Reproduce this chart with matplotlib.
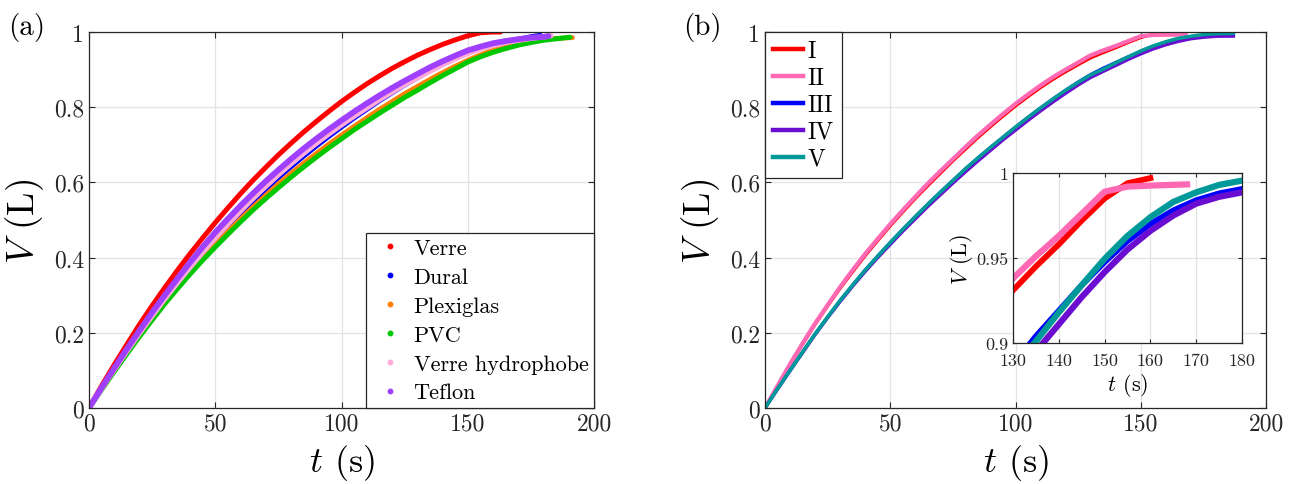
import matplotlib
matplotlib.use("Agg")
import matplotlib.pyplot as plt
from matplotlib.lines import Line2D
from matplotlib.ticker import FormatStrFormatter

plt.rcParams['font.family'] = ['cmr10', 'DejaVu Serif']
plt.rcParams['mathtext.fontset'] = 'cm'
plt.rcParams['axes.formatter.use_mathtext'] = True
plt.rcParams['axes.unicode_minus'] = False

# ---------------- Panel (a) data ----------------
mat_names = ["Verre", "Dural", "Plexiglas", "PVC", "Verre hydrophobe", "Teflon"]
mat_colors = ["#FF0000", "#0000FF", "#FF8000", "#00C800", "#FFAAD8", "#A040FF"]

t_verre = [0, 5, 10, 15, 20, 25, 30, 35, 40, 45, 50, 55, 60, 65, 70, 75, 80, 85, 90, 95, 100,
           105, 110, 115, 120, 125, 130, 135, 140, 145, 150, 155, 160, 163]
v_verre = [0, 0.059, 0.115, 0.169, 0.222, 0.272, 0.320, 0.366, 0.410, 0.452, 0.493, 0.532, 0.570,
           0.606, 0.640, 0.673, 0.704, 0.734, 0.762, 0.789, 0.815, 0.839, 0.862, 0.883, 0.903,
           0.921, 0.938, 0.953, 0.967, 0.979, 0.990, 0.998, 1.0, 1.0]

t_dural = [0, 5, 10, 15, 20, 25, 30, 35, 40, 45, 50, 55, 60, 65, 70, 75, 80, 85, 90, 95, 100,
           105, 110, 115, 120, 125, 130, 135, 140, 145, 150, 155, 160, 165, 170, 175, 179]
v_dural = [0, 0.050, 0.100, 0.148, 0.195, 0.240, 0.284, 0.326, 0.366, 0.405, 0.442, 0.478, 0.512,
           0.545, 0.577, 0.608, 0.637, 0.665, 0.692, 0.718, 0.743, 0.767, 0.790, 0.813, 0.834,
           0.855, 0.874, 0.893, 0.910, 0.926, 0.941, 0.954, 0.966, 0.976, 0.984, 0.991, 0.995]

t_plexi = [0, 5, 10, 15, 20, 25, 30, 35, 40, 45, 50, 55, 60, 65, 70, 75, 80, 85, 90, 95, 100,
           105, 110, 115, 120, 125, 130, 135, 140, 145, 150, 155, 160, 165, 170, 175, 180, 185, 191.5]
v_plexi = [0, 0.050, 0.099, 0.147, 0.193, 0.238, 0.282, 0.323, 0.362, 0.399, 0.435, 0.470, 0.503,
           0.535, 0.566, 0.596, 0.624, 0.651, 0.677, 0.702, 0.726, 0.749, 0.772, 0.794, 0.815,
           0.836, 0.855, 0.874, 0.892, 0.909, 0.925, 0.939, 0.952, 0.962, 0.970, 0.976, 0.980,
           0.983, 0.985]

t_pvc = [0, 5, 10, 15, 20, 25, 30, 35, 40, 45, 50, 55, 60, 65, 70, 75, 80, 85, 90, 95, 100,
         105, 110, 115, 120, 125, 130, 135, 140, 145, 150, 155, 160, 165, 170, 175, 180, 185, 190.5]
v_pvc = [0, 0.049, 0.097, 0.144, 0.190, 0.234, 0.277, 0.317, 0.356, 0.393, 0.428, 0.462, 0.495,
         0.527, 0.557, 0.586, 0.614, 0.641, 0.667, 0.692, 0.716, 0.740, 0.762, 0.784, 0.805,
         0.826, 0.845, 0.865, 0.884, 0.902, 0.920, 0.934, 0.946, 0.956, 0.965, 0.972, 0.978,
         0.982, 0.986]

t_hydro = [0, 5, 10, 15, 20, 25, 30, 35, 40, 45, 50, 55, 60, 65, 70, 75, 80, 85, 90, 95, 100,
           105, 110, 115, 120, 125, 130, 135, 140, 145, 150, 155, 160, 165, 170, 175, 180, 183]
v_hydro = [0, 0.052, 0.102, 0.151, 0.199, 0.245, 0.290, 0.333, 0.374, 0.414, 0.452, 0.489, 0.524,
           0.558, 0.590, 0.621, 0.650, 0.678, 0.704, 0.729, 0.753, 0.776, 0.798, 0.820, 0.840,
           0.860, 0.878, 0.896, 0.913, 0.929, 0.943, 0.955, 0.964, 0.972, 0.978, 0.983, 0.987, 0.990]

t_teflon = [0, 5, 10, 15, 20, 25, 30, 35, 40, 45, 50, 55, 60, 65, 70, 75, 80, 85, 90, 95, 100,
            105, 110, 115, 120, 125, 130, 135, 140, 145, 150, 155, 160, 165, 170, 175, 180, 182]
v_teflon = [0, 0.054, 0.106, 0.157, 0.206, 0.254, 0.300, 0.344, 0.387, 0.428, 0.467, 0.503, 0.538,
            0.571, 0.603, 0.633, 0.662, 0.690, 0.716, 0.741, 0.765, 0.788, 0.810, 0.831, 0.851,
            0.870, 0.888, 0.906, 0.922, 0.937, 0.951, 0.961, 0.970, 0.976, 0.981, 0.985, 0.987, 0.989]

mat_t = [t_verre, t_dural, t_plexi, t_pvc, t_hydro, t_teflon]
mat_v = [v_verre, v_dural, v_plexi, v_pvc, v_hydro, v_teflon]
mat_lw = [3.6, 1.6, 3.4, 3.6, 3.8, 4.2]

# ---------------- Panel (b) data ----------------
run_names = ["I", "II", "III", "IV", "V"]
run_colors = ["#FF0000", "#FF69B4", "#0000FF", "#6A0DD0", "#009999"]

t_I = [0, 5, 10, 15, 20, 25, 30, 35, 40, 45, 50, 55, 60, 65, 70, 75, 80, 85, 90, 95, 100,
       105, 110, 115, 120, 125, 130, 135, 140, 145, 150, 155, 160]
v_I = [0, 0.058, 0.115, 0.169, 0.222, 0.271, 0.318, 0.362, 0.405, 0.445, 0.484, 0.521, 0.557,
       0.591, 0.624, 0.657, 0.688, 0.719, 0.748, 0.776, 0.803, 0.828, 0.852, 0.874, 0.894,
       0.913, 0.931, 0.945, 0.958, 0.972, 0.985, 0.994, 0.997]

t_II = [0, 5, 10, 15, 20, 25, 30, 35, 40, 45, 50, 55, 60, 65, 70, 75, 80, 85, 90, 95, 100,
        105, 110, 115, 120, 125, 130, 135, 140, 145, 150, 155, 160, 168]
v_II = [0, 0.059, 0.117, 0.172, 0.225, 0.274, 0.322, 0.367, 0.410, 0.450, 0.489, 0.526, 0.562,
        0.597, 0.630, 0.662, 0.694, 0.725, 0.754, 0.782, 0.809, 0.834, 0.858, 0.880, 0.900,
        0.919, 0.938, 0.951, 0.963, 0.976, 0.989, 0.992, 0.9926, 0.9933]

t_III = [0, 5, 10, 15, 20, 25, 30, 35, 40, 45, 50, 55, 60, 65, 70, 75, 80, 85, 90, 95, 100,
         105, 110, 115, 120, 125, 130, 135, 140, 145, 150, 155, 160, 165, 170, 175, 180, 187]
v_III = [0, 0.051, 0.100, 0.149, 0.197, 0.242, 0.286, 0.327, 0.367, 0.404, 0.440, 0.475, 0.509,
         0.542, 0.574, 0.605, 0.636, 0.665, 0.693, 0.720, 0.747, 0.773, 0.798, 0.822, 0.845,
         0.867, 0.887, 0.904, 0.919, 0.934, 0.9476, 0.960, 0.970, 0.978, 0.984, 0.988, 0.9906, 0.992]

t_IV = [0, 5, 10, 15, 20, 25, 30, 35, 40, 45, 50, 55, 60, 65, 70, 75, 80, 85, 90, 95, 100,
        105, 110, 115, 120, 125, 130, 135, 140, 145, 150, 155, 160, 165, 170, 175, 180, 187]
v_IV = [0, 0.050, 0.099, 0.147, 0.195, 0.240, 0.283, 0.324, 0.363, 0.400, 0.435, 0.470, 0.503,
        0.536, 0.567, 0.598, 0.628, 0.657, 0.685, 0.713, 0.739, 0.765, 0.790, 0.814, 0.837,
        0.859, 0.879, 0.895, 0.911, 0.927, 0.9417, 0.955, 0.966, 0.975, 0.982, 0.986, 0.9886, 0.989]

t_V = [0, 5, 10, 15, 20, 25, 30, 35, 40, 45, 50, 55, 60, 65, 70, 75, 80, 85, 90, 95, 100,
       105, 110, 115, 120, 125, 130, 135, 140, 145, 150, 155, 160, 165, 170, 175, 180, 187]
v_V = [0, 0.051, 0.100, 0.149, 0.197, 0.242, 0.286, 0.327, 0.367, 0.404, 0.440, 0.475, 0.509,
       0.542, 0.574, 0.605, 0.636, 0.665, 0.693, 0.720, 0.747, 0.773, 0.798, 0.822, 0.845,
       0.866, 0.886, 0.901, 0.918, 0.934, 0.9495, 0.963, 0.974, 0.983, 0.9886, 0.993, 0.9955, 0.9966]

run_t = [t_I, t_II, t_III, t_IV, t_V]
run_v = [v_I, v_II, v_III, v_IV, v_V]
run_lw = [2.2, 3.0, 2.2, 2.4, 2.6]
inset_lw = [4.2, 4.5, 4.2, 4.5, 4.5]

x_ticks = [0, 50, 100, 150, 200]
y_ticks = [0, 0.2, 0.4, 0.6, 0.8, 1]
inset_x_ticks = [130, 140, 150, 160, 170, 180]
inset_y_ticks = [0.9, 0.95, 1]

W, H = 1301, 485
fig = plt.figure(figsize=(W / 100, H / 100), dpi=100)


def style_axes(ax, fs):
    ax.tick_params(direction='in', top=True, right=True, labelsize=fs,
                   length=4, width=0.8, colors='#262626', labelcolor='#262626')
    ax.grid(True, color='#E3E3E3', linewidth=0.9)
    ax.set_axisbelow(True)
    for s in ax.spines.values():
        s.set_color('#262626')
        s.set_linewidth(0.9)
    ax.xaxis.set_major_formatter(FormatStrFormatter('%g'))
    ax.yaxis.set_major_formatter(FormatStrFormatter('%g'))


# ---- Panel (a)
axa = fig.add_axes([89 / W, 1 - 409 / H, 505 / W, 376 / H])
for t, v, c, lw in zip(mat_t, mat_v, mat_colors, mat_lw):
    axa.plot(t, v, color=c, lw=lw, solid_capstyle='round', solid_joinstyle='round')
axa.set_xlim(0, 200)
axa.set_ylim(0, 1)
axa.set_xticks(x_ticks)
axa.set_yticks(y_ticks)
style_axes(axa, 17)
axa.set_xlabel(r'$t$ (s)', fontsize=26, labelpad=5)
axa.set_ylabel(r'$V$ (L)', fontsize=27, labelpad=6)
handles_a = [Line2D([], [], ls='none', marker='o', ms=3.2, color=c, mec=c) for c in mat_colors]
leg = axa.legend(handles_a, mat_names, loc='lower right', fontsize=16, frameon=True,
                 fancybox=False, edgecolor='#262626', framealpha=1,
                 borderaxespad=0, handlelength=1.7, handletextpad=0.2,
                 labelspacing=0.42, borderpad=0.25)
leg.get_frame().set_linewidth(0.9)

# ---- Panel (b)
axb = fig.add_axes([765 / W, 1 - 409 / H, 501 / W, 376 / H])
for t, v, c, lw, n in zip(run_t, run_v, run_colors, run_lw, run_names):
    axb.plot(t, v, color=c, lw=lw, label=n, solid_joinstyle='round')
axb.set_xlim(0, 200)
axb.set_ylim(0, 1)
axb.set_xticks(x_ticks)
axb.set_yticks(y_ticks)
style_axes(axb, 17)
axb.set_xlabel(r'$t$ (s)', fontsize=26, labelpad=5)
axb.set_ylabel(r'$V$ (L)', fontsize=27, labelpad=6)
handles_b = [Line2D([], [], color=c, lw=3.2) for c in run_colors]
legb = axb.legend(handles_b, run_names, loc='upper left', fontsize=17, frameon=True,
                  fancybox=False, edgecolor='#262626', framealpha=1,
                  borderaxespad=0, handlelength=1.25, handletextpad=0.2,
                  labelspacing=0.2, borderpad=0.35)
legb.get_frame().set_linewidth(0.9)

# ---- Inset
axi = fig.add_axes([1013 / W, 1 - 344 / H, 229 / W, 170 / H])
for t, v, c, lw in zip(run_t, run_v, run_colors, inset_lw):
    axi.plot(t, v, color=c, lw=lw, solid_joinstyle='round')
axi.set_xlim(130, 180)
axi.set_ylim(0.9, 1)
axi.set_xticks(inset_x_ticks)
axi.set_yticks(inset_y_ticks)
style_axes(axi, 13)
axi.tick_params(length=3)
axi.tick_params(axis='x', pad=7)
axi.set_xlabel(r'$t$ (s)', fontsize=16, labelpad=2)
axi.set_ylabel(r'$V$ (L)', fontsize=16, labelpad=1)

fig.text(8 / W, 1 - 28 / H, '(a)', fontsize=21, va='center', ha='left')
fig.text(683 / W, 1 - 28 / H, '(b)', fontsize=21, va='center', ha='left')

fig.savefig('out.png', dpi=100)
